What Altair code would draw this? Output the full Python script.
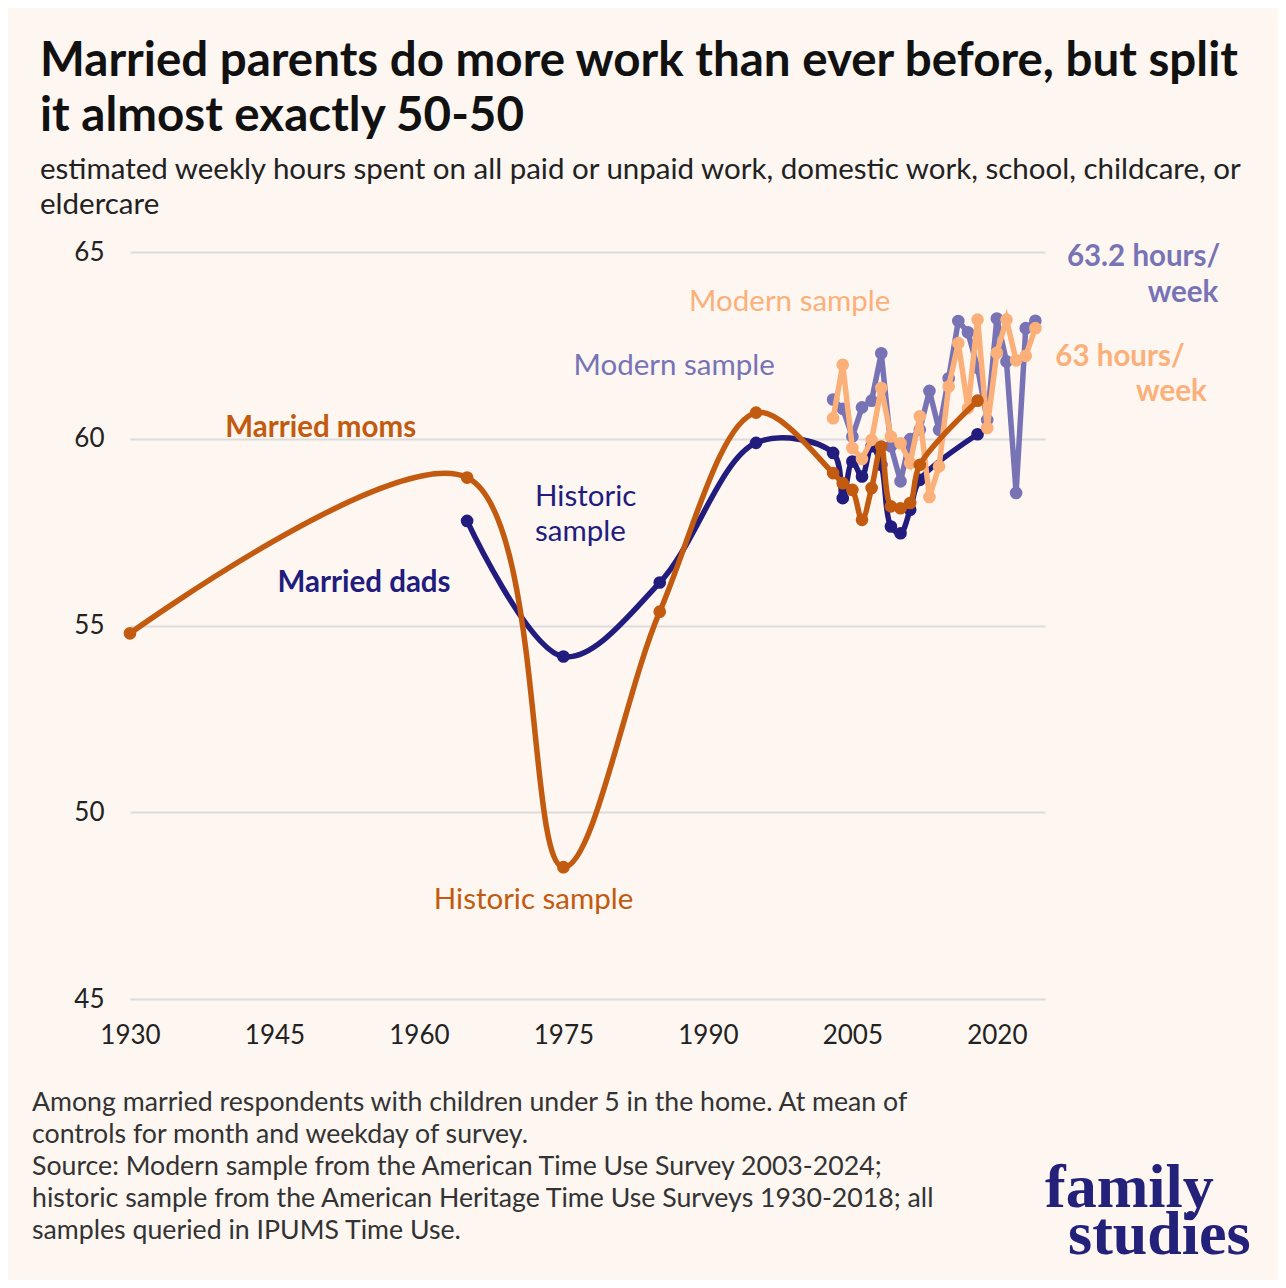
import altair as alt
import pandas as pd

# ---------------- data ----------------
hist_years = [1930, 1965, 1975, 1985, 1995, 2003, 2004, 2005, 2006, 2007, 2008, 2009, 2010, 2011, 2012, 2018]
hist_moms = [54.79, 58.96, 48.53, 55.37, 60.70, 59.08, 58.81, 58.63, 57.83, 58.68, 59.79, 58.19, 58.14, 58.28, 59.30, 61.02]

hist_dads_years = [1965, 1975, 1985, 1995, 2003, 2004, 2005, 2006, 2007, 2008, 2009, 2010, 2011, 2012, 2018]
hist_dads = [57.80, 54.17, 56.15, 59.89, 59.62, 58.41, 59.39, 58.99, 59.80, 59.30, 57.65, 57.47, 58.10, 58.90, 60.12]

modern_years = list(range(2003, 2025))
modern_moms = [60.55, 61.98, 59.75, 59.46, 59.97, 61.36, 60.06, 59.88, 59.35, 60.60, 58.44,
               59.26, 61.40, 62.56, 60.82, 63.19, 60.29, 62.30, 63.19, 62.10, 62.22, 62.96]
modern_dads = [61.05, 60.80, 60.06, 60.84, 61.02, 62.29, 59.80, 58.86, 59.99, 60.24, 61.28,
               60.24, 61.62, 63.15, 62.85, 61.90, 60.50, 63.22, 62.07, 58.55, 62.96, 63.16]

x_ticks = [1930, 1945, 1960, 1975, 1990, 2005, 2020]
y_ticks = [45, 50, 55, 60, 65]

# ---------------- style ----------------
FONT = "Lato"
C_MOM_H = "#C25A0F"
C_DAD_H = "#211C7E"
C_MOM_M = "#FBB07A"
C_DAD_M = "#7773B5"
BG = "#FDF6F1"

W, H = 915, 747
xs = alt.Scale(domain=[1930, 2025], nice=False, zero=False)
ys = alt.Scale(domain=[45, 65], nice=False, zero=False)

XENC = alt.X("year:Q", scale=xs, axis=alt.Axis(
    values=x_ticks, format="d", grid=False, domain=False, ticks=False,
    labelFontSize=26, labelFont=FONT, labelColor="#222222", labelPadding=23,
    labelFlush=False, labelOverlap=False, title=None))
YENC = alt.Y("value:Q", scale=ys, axis=alt.Axis(
    values=y_ticks, grid=True, gridColor="#DCDCDC", gridWidth=2, domain=False,
    ticks=False, labelFontSize=26, labelFont=FONT, labelColor="#222222",
    labelPadding=26, labelFlush=False, labelOverlap=False, title=None))


def series(years, vals, color, interp, width):
    df = pd.DataFrame({"year": years, "value": vals})
    base = alt.Chart(df).encode(x=XENC, y=YENC)
    line = base.mark_line(color=color, strokeWidth=width, interpolate=interp)
    pts = base.mark_circle(color=color, size=160, opacity=1)
    return line + pts


def note(text, year, val, color, size=29.5, weight="normal", align="left"):
    df = pd.DataFrame({"t": [text], "year": [year], "value": [val]})
    return alt.Chart(df).mark_text(
        font=FONT, fontSize=size, fontWeight=weight, color=color,
        align=align, baseline="middle"
    ).encode(x=XENC, y=YENC, text="t:N")


def ptext(text, px, py, size, color, weight="normal", font=FONT, align="left"):
    df = pd.DataFrame({"t": [text]})
    return alt.Chart(df).mark_text(
        font=font, fontSize=size, fontWeight=weight, color=color,
        align=align, baseline="alphabetic"
    ).encode(x=alt.value(px), y=alt.value(py), text="t:N")


layers = [
    series(modern_years, modern_dads, C_DAD_M, "linear", 5.5),
    series(hist_dads_years, hist_dads, C_DAD_H, "catmull-rom", 5.5),
    series(modern_years, modern_moms, C_MOM_M, "linear", 5.5),
    series(hist_years, hist_moms, C_MOM_H, "catmull-rom", 5.5),
    note("Married moms", 1949.8, 60.29, C_MOM_H, weight="bold", align="center"),
    note("Married dads", 1954.3, 56.14, C_DAD_H, weight="bold", align="center"),
    note("Historic", 1972.05, 58.45, C_DAD_H),
    note("sample", 1972.05, 57.51, C_DAD_H),
    note("Historic sample", 1971.9, 47.64, C_MOM_H, align="center"),
    note("Modern sample", 1986.5, 61.95, C_DAD_M, align="center"),
    note("Modern sample", 1998.5, 63.67, C_MOM_M, align="center"),
    note("63.2 hours/", 2043.2, 64.87, C_DAD_M, weight="bold", align="right"),
    note("week", 2043.0, 63.91, C_DAD_M, weight="bold", align="right"),
    note("63 hours/", 2039.5, 62.20, C_MOM_M, weight="bold", align="right"),
    note("week", 2041.8, 61.26, C_MOM_M, weight="bold", align="right"),
    # title / subtitle
    ptext("Married parents do more work than ever before, but split", -90, -176, 47.5, "#111111", weight="bold"),
    ptext("it almost exactly 50-50", -90, -121, 47.5, "#111111", weight="bold"),
    ptext("estimated weekly hours spent on all paid or unpaid work, domestic work, school, childcare, or",
          -90, -73, 29.5, "#222222"),
    ptext("eldercare", -90, -38, 29.5, "#222222"),
    # footnote
    ptext("Among married respondents with children under 5 in the home. At mean of", -98, 859, 26.7, "#333333"),
    ptext("controls for month and weekday of survey.", -98, 891, 26.7, "#333333"),
    ptext("Source: Modern sample from the American Time Use Survey 2003-2024;", -98, 923, 26.7, "#333333"),
    ptext("historic sample from the American Heritage Time Use Surveys 1930-2018; all", -98, 955, 26.7, "#333333"),
    ptext("samples queried in IPUMS Time Use.", -98, 987, 26.7, "#333333"),
    # logo
    ptext("family", 915, 955, 62, "#24217A", weight="bold", font="Liberation Serif"),
    ptext("studies", 938, 1002, 62, "#24217A", weight="bold", font="Liberation Serif"),
]

chart = alt.layer(*layers).properties(
    width=W, height=H,
    autosize=alt.AutoSizeParams(type="none"),
    padding={"left": 122, "top": 244, "right": 233, "bottom": 281},
    background=BG,
).configure_view(stroke=None)

chart.save("out.html", embed_options={"renderer": "svg", "actions": False})
